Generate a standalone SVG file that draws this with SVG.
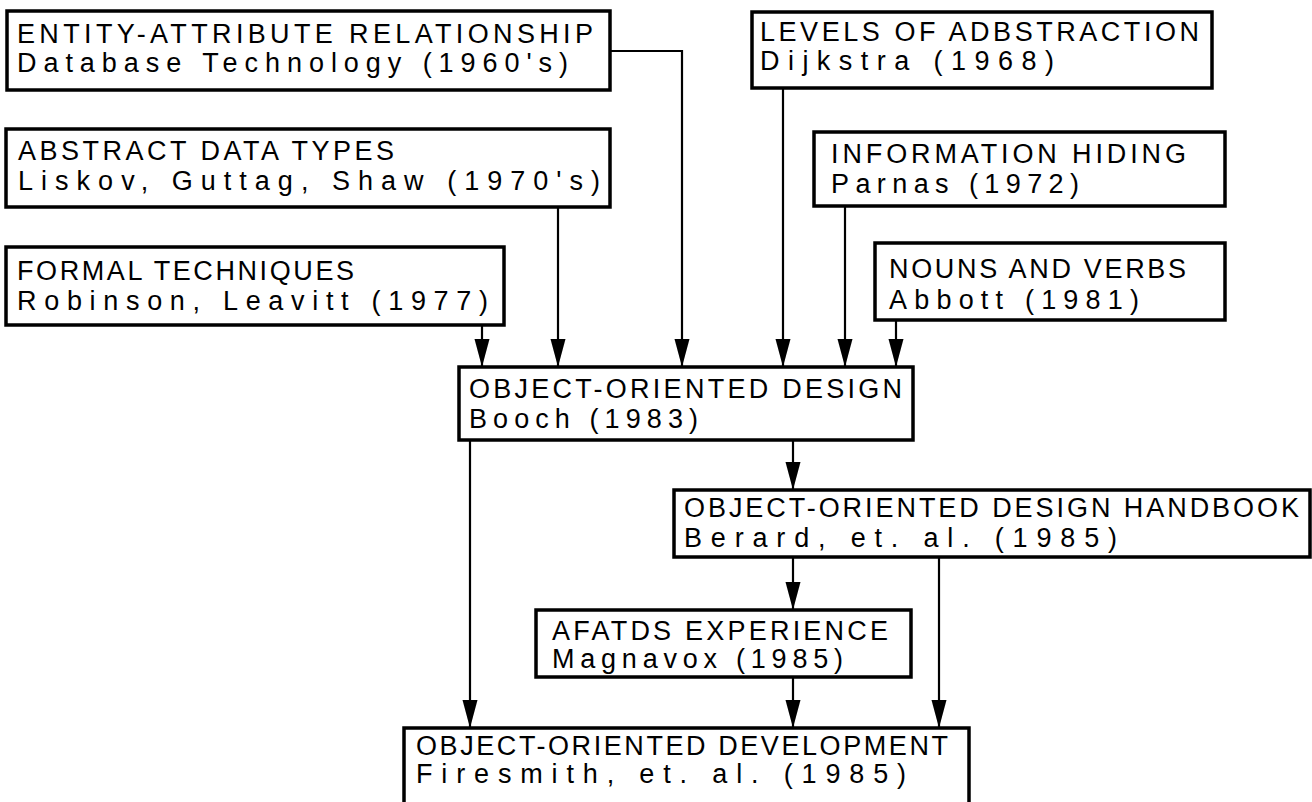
<svg xmlns="http://www.w3.org/2000/svg" width="1312" height="802" viewBox="0 0 1312 802">
<style>
.box{fill:#fff;stroke:#000;stroke-width:3.5}
.t{font-family:"Liberation Sans",Arial,sans-serif;font-size:27px;fill:#000}
.c{fill:none;stroke:#000;stroke-width:2.2}
</style>
<defs>
<marker id="ah" markerUnits="userSpaceOnUse" viewBox="0 -8 29 16" refX="28" refY="0" markerWidth="29" markerHeight="16" orient="auto">
<path d="M0,-7.5 L28,0 L0,7.5 Z" fill="#000"/>
</marker>
</defs>
<rect width="1312" height="802" fill="#fff"/>
<g id="connectors">
<path class="c" d="M610,51 H682 V367" marker-end="url(#ah)"/>
<path class="c" d="M558,207 V367" marker-end="url(#ah)"/>
<path class="c" d="M482,325 V367" marker-end="url(#ah)"/>
<path class="c" d="M783,88 V367" marker-end="url(#ah)"/>
<path class="c" d="M845,206 V367" marker-end="url(#ah)"/>
<path class="c" d="M896,320 V367" marker-end="url(#ah)"/>
<path class="c" d="M793,440 V490" marker-end="url(#ah)"/>
<path class="c" d="M470,440 V728" marker-end="url(#ah)"/>
<path class="c" d="M793,557 V610" marker-end="url(#ah)"/>
<path class="c" d="M939,557 V728" marker-end="url(#ah)"/>
<path class="c" d="M793,677 V728" marker-end="url(#ah)"/>
</g>
<g id="entity">
<rect class="box" x="7" y="11" width="603" height="79"/>
<text class="t" x="17" y="43" textLength="576" lengthAdjust="spacing">ENTITY-ATTRIBUTE RELATIONSHIP</text>
<text class="t" x="17" y="72" textLength="551" lengthAdjust="spacing">Database Technology (1960's)</text>
</g>
<g id="levels">
<rect class="box" x="752" y="12" width="460" height="76"/>
<text class="t" x="760" y="41" textLength="439" lengthAdjust="spacing">LEVELS OF ADBSTRACTION</text>
<text class="t" x="760" y="70" textLength="294" lengthAdjust="spacing">Dijkstra (1968)</text>
</g>
<g id="abstract">
<rect class="box" x="6" y="129" width="604" height="78"/>
<text class="t" x="18" y="160" textLength="376" lengthAdjust="spacing">ABSTRACT DATA TYPES</text>
<text class="t" x="18" y="190" textLength="582" lengthAdjust="spacing">Liskov, Guttag, Shaw (1970's)</text>
</g>
<g id="info">
<rect class="box" x="814" y="132" width="411" height="74"/>
<text class="t" x="831" y="163" textLength="355" lengthAdjust="spacing">INFORMATION HIDING</text>
<text class="t" x="831" y="193" textLength="248" lengthAdjust="spacing">Parnas (1972)</text>
</g>
<g id="formal">
<rect class="box" x="6" y="247" width="498" height="78"/>
<text class="t" x="17" y="280" textLength="337" lengthAdjust="spacing">FORMAL TECHNIQUES</text>
<text class="t" x="17" y="310" textLength="471" lengthAdjust="spacing">Robinson, Leavitt (1977)</text>
</g>
<g id="nouns">
<rect class="box" x="875" y="243" width="350" height="77"/>
<text class="t" x="889" y="278" textLength="297" lengthAdjust="spacing">NOUNS AND VERBS</text>
<text class="t" x="889" y="309" textLength="250" lengthAdjust="spacing">Abbott (1981)</text>
</g>
<g id="ood">
<rect class="box" x="459" y="367" width="454" height="73"/>
<text class="t" x="469" y="398" textLength="433" lengthAdjust="spacing">OBJECT-ORIENTED DESIGN</text>
<text class="t" x="469" y="428" textLength="229" lengthAdjust="spacing">Booch (1983)</text>
</g>
<g id="handbook">
<rect class="box" x="674" y="490" width="636" height="67"/>
<text class="t" x="684" y="517" textLength="615" lengthAdjust="spacing">OBJECT-ORIENTED DESIGN HANDBOOK</text>
<text class="t" x="684" y="547" textLength="433" lengthAdjust="spacing">Berard, et. al. (1985)</text>
</g>
<g id="afatds">
<rect class="box" x="536" y="610" width="375" height="67"/>
<text class="t" x="552" y="640" textLength="336" lengthAdjust="spacing">AFATDS EXPERIENCE</text>
<text class="t" x="552" y="668" textLength="291" lengthAdjust="spacing">Magnavox (1985)</text>
</g>
<g id="ood-development">
<rect class="box" x="404" y="728" width="565" height="80"/>
<text class="t" x="416" y="755" textLength="532" lengthAdjust="spacing">OBJECT-ORIENTED DEVELOPMENT</text>
<text class="t" x="416" y="783" textLength="490" lengthAdjust="spacing">Firesmith, et. al. (1985)</text>
</g>
</svg>
